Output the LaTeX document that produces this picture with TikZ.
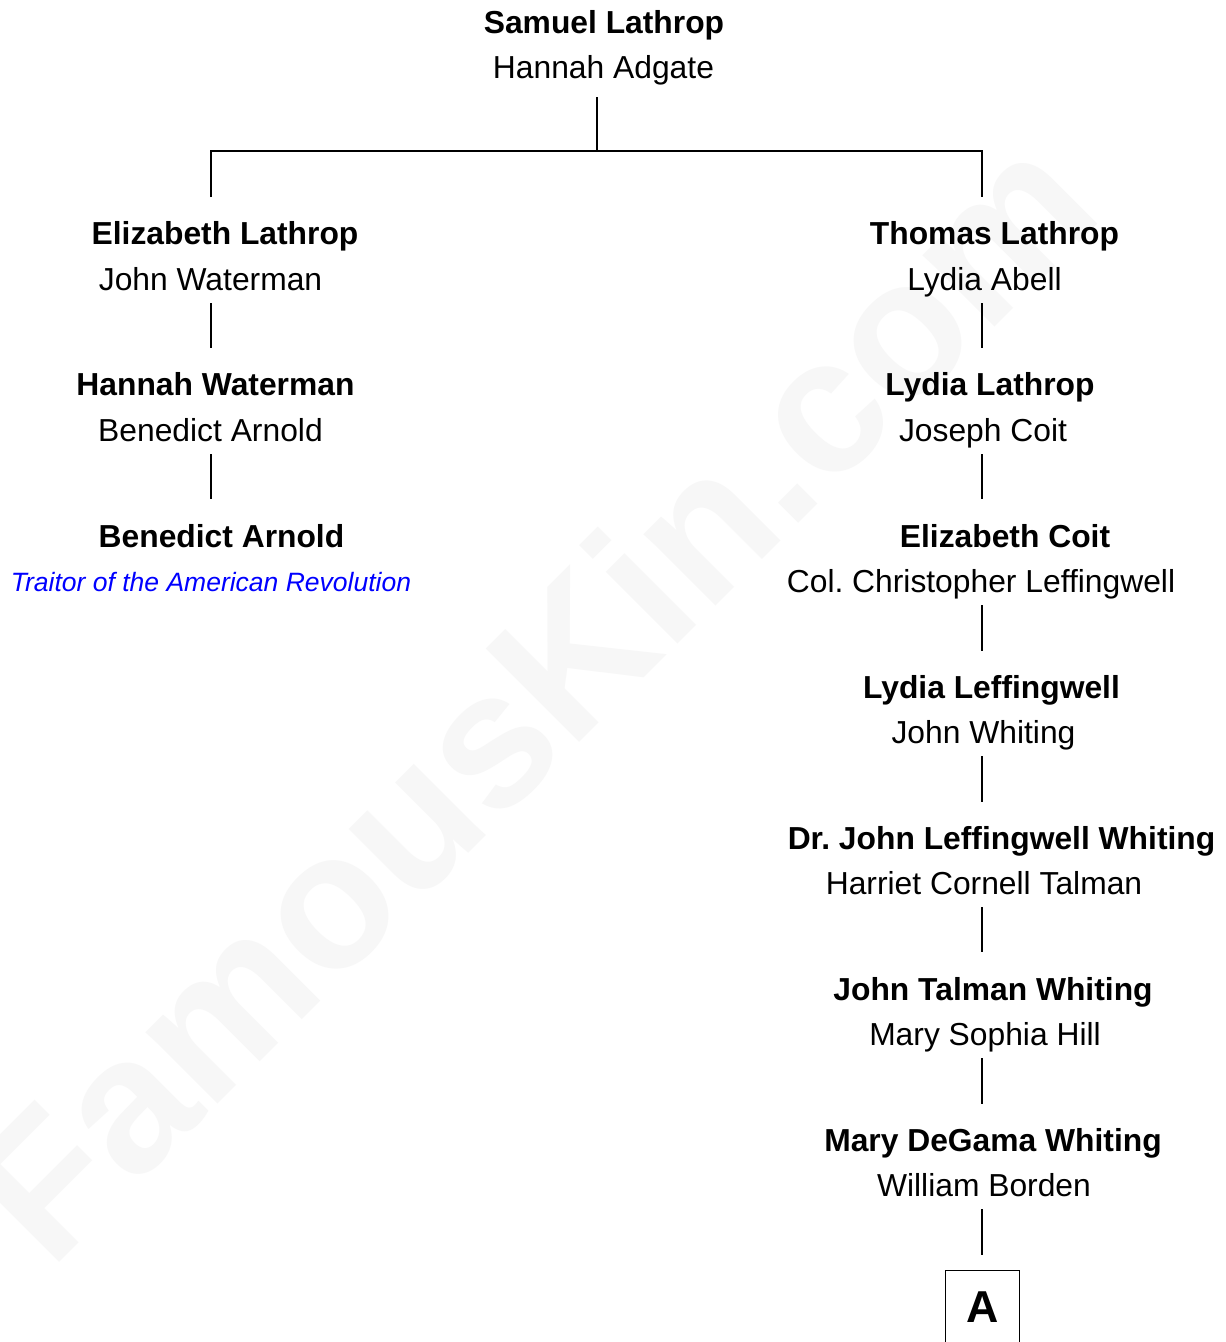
\documentclass[tikz,border=0pt]{standalone}
\usepackage{fontspec}
\setmainfont{Liberation Sans}[Ligatures=CommonOff]
\frenchspacing
\begin{document}
\begin{tikzpicture}[x=1pt,y=-1pt,
  pname/.style={font=\fontsize{31.8}{38}\selectfont\bfseries, anchor=base, inner sep=0pt},
  spouse/.style={font=\fontsize{31.8}{38}\selectfont, anchor=base, inner sep=0pt},
  note/.style={font=\fontsize{26.5}{32}\selectfont\itshape, text={rgb,255:red,0;green,0;blue,255}, anchor=base, inner sep=0pt},
  link/.style={line width=1.2pt, black},
  wmark/.style={font=\fontsize{192}{200}\selectfont\bfseries, text=black!3, rotate=45, anchor=base west, inner sep=0pt}]
\clip (0,0) rectangle (1226,1342);
\fill[white] (0,0) rectangle (1226,1342);
% watermark
\node[wmark] (wm) at (50,1272) {FamousKin.com};
% top couple
\node[pname] (n0) at (604,33) {Samuel Lathrop};
\node[spouse] (s0) at (603.5,78) {Hannah Adgate};
% left branch
\node[pname] (l1) at (225,244) {Elizabeth Lathrop};
\node[spouse] (ls1) at (210.5,290) {John Waterman};
\node[pname] (l2) at (215.5,395) {Hannah Waterman};
\node[spouse] (ls2) at (210.5,441) {Benedict Arnold};
\node[pname] (l3) at (221.5,547) {Benedict Arnold};
\node[note] (l3n) at (211,591) {Traitor of the American Revolution};
% right branch
\node[pname] (r1) at (994.5,244) {Thomas Lathrop};
\node[spouse] (rs1) at (984.5,290) {Lydia Abell};
\node[pname] (r2) at (990,395) {Lydia Lathrop};
\node[spouse] (rs2) at (983,441) {Joseph Coit};
\node[pname] (r3) at (1005,547) {Elizabeth Coit};
\node[spouse] (rs3) at (981,592) {Col. Christopher Leffingwell};
\node[pname] (r4) at (991.5,698) {Lydia Leffingwell};
\node[spouse] (rs4) at (983.5,743) {John Whiting};
\node[pname] (r5) at (1001.5,849) {Dr. John Leffingwell Whiting};
\node[spouse] (rs5) at (984,894) {Harriet Cornell Talman};
\node[pname] (r6) at (993,1000) {John Talman Whiting};
\node[spouse] (rs6) at (985,1045) {Mary Sophia Hill};
\node[pname] (r7) at (993,1151) {Mary DeGama Whiting};
\node[spouse] (rs7) at (984,1196) {William Borden};
\node[draw, line width=1.2pt, anchor=north, inner sep=0pt, minimum width=74pt,
      text height=52pt, text depth=48pt, font=\fontsize{44.7}{50}\selectfont\bfseries] (boxA) at (982.5,1270) {A};
% connector coordinates
\coordinate (t0) at (597,97);
\coordinate (t1) at (597,151);
\coordinate (hl) at (211,151);
\coordinate (hr) at (982,151);
\coordinate (hl2) at (211,197);
\coordinate (hr2) at (982,197);
\draw[link] (t0) -- (t1);
\draw[link] (hl2) -- (hl) -- (hr) -- (hr2);
% left verticals
\foreach \a/\b in {303/348, 454/499} {
  \draw[link] (211,\a) -- (211,\b);
}
% right verticals
\foreach \a/\b in {303/348, 454/499, 605/651, 756/802, 907/952, 1058/1104} {
  \draw[link] (982,\a) -- (982,\b);
}
\coordinate (wb) at (982,1209);
\coordinate (wa) at (982,1255);
\draw[link] (wb) -- (wa);
\end{tikzpicture}
\end{document}
